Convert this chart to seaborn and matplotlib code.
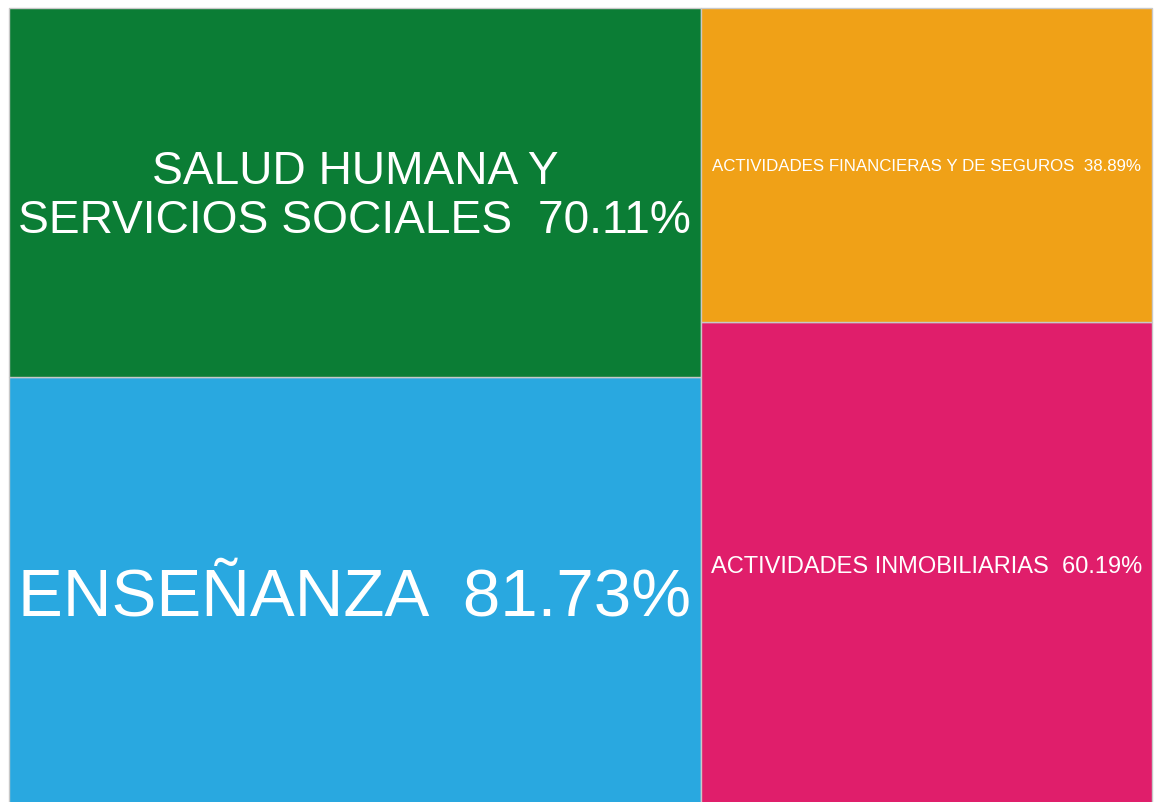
import matplotlib
matplotlib.use("Agg")
import matplotlib.pyplot as plt
import seaborn as sns
from matplotlib.patches import Rectangle

labels = ["ENSEÑANZA", "SALUD HUMANA Y\nSERVICIOS SOCIALES",
          "ACTIVIDADES INMOBILIARIAS", "ACTIVIDADES FINANCIERAS Y DE SEGUROS"]
values = [81.73, 70.11, 60.19, 38.89]
colors = ["#29A8E0", "#0B7D35", "#E01E6B", "#F0A117"]

sns.set_theme(style="white")
plt.rcParams['font.family'] = ['Liberation Sans', 'DejaVu Sans']

# treemap box in pixels; the bottom runs a little past the picture
W, H = 1143.0, 800.0


def worst(row, w):
    s = sum(row)
    return max(max(w * w * r / (s * s), s * s / (w * w * r)) for r in row)


def layout_row(row, x, y, dx, dy):
    s = sum(row)
    rects = []
    if dx >= dy:
        width = s / dy
        yy = y
        for r in row:
            h = r / width
            rects.append((x, yy, width, h))
            yy += h
        return rects, (x + width, y, dx - width, dy)
    height = s / dx
    xx = x
    for r in row:
        w = r / height
        rects.append((xx, y, w, height))
        xx += w
    return rects, (x, y + height, dx, dy - height)


def squarify(sizes, x, y, dx, dy):
    tot = sum(sizes)
    areas = [v * dx * dy / tot for v in sizes]
    out = []
    box = (x, y, dx, dy)
    i = 0
    while i < len(areas):
        side = min(box[2], box[3])
        row = [areas[i]]
        j = i + 1
        while j < len(areas) and worst(row + [areas[j]], side) <= worst(row, side):
            row.append(areas[j])
            j += 1
        rects, box = layout_row(row, *box)
        out += rects
        i = j
    return out


rects = squarify(values, 0, 0, W, H)

fig = plt.figure(figsize=(11.56, 8.02), dpi=100)
ax = fig.add_axes([9 / 1156, (802 - 8 - H) / 802, W / 1156, H / 802])
ax.set_xlim(0, W)
ax.set_ylim(0, H)
ax.axis("off")

fig.canvas.draw()
renderer = fig.canvas.get_renderer()
for (x, y, w, h), lab, val, c in zip(rects, labels, values, colors):
    ax.add_patch(Rectangle((x, y), w, h, facecolor=c, edgecolor="#c8c8c8",
                           linewidth=1.0, clip_on=False))
    t = ax.text(x + w / 2, y + h / 2, f"{lab}  {val:.2f}%", color="white",
                ha="center", va="center", fontsize=10, linespacing=1.16)
    bb = t.get_window_extent(renderer)
    scale = min((w - 20) / bb.width, (h - 20) / bb.height)
    fs = 10 * scale
    t.set_fontsize(fs)
    # nudge down so the capitals sit on the box centre
    t.set_y(y + h / 2 - 0.08 * fs * 100 / 72)

fig.savefig("out.png", dpi=100)
